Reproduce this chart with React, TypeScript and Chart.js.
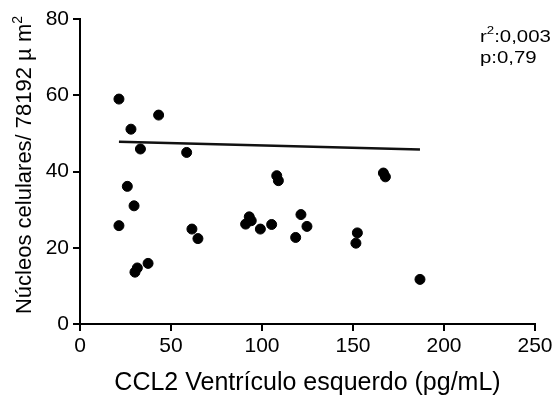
import React, { useEffect, useRef } from "react";
import { Chart, registerables } from "chart.js";

Chart.register(...registerables);

const ccl2Values = [21.4, 28.0, 43.2, 33.2, 58.6, 26.0, 29.7, 21.4, 61.5, 64.8, 31.5, 30.2, 37.4, 93.0, 94.1, 91.0, 99.1, 105.3, 108.1, 109.0, 121.4, 124.7, 118.5, 152.4, 151.6, 166.7, 167.8, 186.8];
const nucleiValues = [59.0, 51.1, 54.8, 45.9, 45.0, 36.1, 31.0, 25.8, 24.9, 22.4, 14.7, 13.6, 15.9, 28.1, 27.1, 26.2, 24.9, 26.1, 38.9, 37.6, 28.7, 25.6, 22.7, 23.9, 21.2, 39.6, 38.6, 11.7];
const fitX = [21.4, 186.8];
const fitY = [47.8, 45.8];
const xTicks = [0, 50, 100, 150, 200, 250];
const yTicks = [0, 20, 40, 60, 80];
const xTitle = "CCL2 Ventrículo esquerdo (pg/mL)";
const yTitleMain = "Núcleos celulares/ 78192 µ m";
const yTitleSup = "2";
const statsR2 = ":0,003";
const statsP = "p:0,79";

const FONT = "'Liberation Sans', Arial, Helvetica, sans-serif";

const textPlugin = {
  id: "texts",
  afterDraw(chart: any) {
    const ctx = chart.ctx;
    ctx.save();
    ctx.fillStyle = "#000";
    ctx.textBaseline = "alphabetic";
    ctx.textAlign = "left";
    // stats annotation (slightly wide lettering as in the reference)
    ctx.save();
    ctx.translate(480, 0);
    ctx.scale(1.2, 1);
    ctx.font = `17px ${FONT}`;
    ctx.fillText("r", 0, 42);
    const rw = ctx.measureText("r").width;
    ctx.font = `11px ${FONT}`;
    ctx.fillText("2", rw, 34);
    const sw = ctx.measureText("2").width;
    ctx.font = `17px ${FONT}`;
    ctx.fillText(statsR2, rw + sw, 42);
    ctx.fillText(statsP, 0, 63);
    ctx.restore();
    // y-axis title
    ctx.save();
    ctx.translate(31, 165);
    ctx.rotate(-Math.PI / 2);
    ctx.font = `22px ${FONT}`;
    const mw = ctx.measureText(yTitleMain).width;
    ctx.font = `14px ${FONT}`;
    const supW = ctx.measureText(yTitleSup).width;
    const start = -(mw + supW) / 2;
    ctx.font = `22px ${FONT}`;
    ctx.fillText(yTitleMain, start, 0);
    ctx.font = `14px ${FONT}`;
    ctx.fillText(yTitleSup, start + mw, -9);
    ctx.restore();
    ctx.restore();
  },
};

export default function App() {
  const ref = useRef<HTMLCanvasElement | null>(null);
  useEffect(() => {
    if (!ref.current) return;
    const chart = new Chart(ref.current, {
      type: "scatter",
      data: {
        datasets: [
          {
            type: "scatter",
            data: ccl2Values.map((x, i) => ({ x, y: nucleiValues[i] })),
            backgroundColor: "#000",
            borderColor: "#000",
            pointRadius: 5,
            pointHoverRadius: 5,
          },
          {
            type: "line",
            data: fitX.map((x, i) => ({ x, y: fitY[i] })),
            borderColor: "#111",
            borderWidth: 2.5,
            pointRadius: 0,
            fill: false,
          } as any,
        ],
      },
      options: {
        responsive: false,
        animation: false,
        layout: { padding: { top: 19, right: 24, left: 0, bottom: 0 } },
        plugins: { legend: { display: false }, tooltip: { enabled: false } },
        scales: {
          x: {
            type: "linear",
            min: 0,
            max: 250,
            afterBuildTicks: (s: any) => {
              s.ticks = xTicks.map((v) => ({ value: v }));
            },
            afterFit: (s: any) => {
              s.height = 75;
            },
            grid: { display: true, drawOnChartArea: false, drawTicks: true, tickLength: 7, color: "#000", lineWidth: 2 },
            border: { display: true, color: "#000", width: 2 },
            ticks: { color: "#000", font: { family: FONT, size: 21 }, padding: 3, maxRotation: 0 },
            title: { display: true, text: xTitle, color: "#000", font: { family: FONT, size: 25 }, padding: { top: 0, bottom: 1 } },
          },
          y: {
            type: "linear",
            min: 0,
            max: 80,
            afterBuildTicks: (s: any) => {
              s.ticks = yTicks.map((v) => ({ value: v }));
            },
            afterFit: (s: any) => {
              s.width = 80;
            },
            grid: { display: true, drawOnChartArea: false, drawTicks: true, tickLength: 7, color: "#000", lineWidth: 2 },
            border: { display: true, color: "#000", width: 2 },
            ticks: { color: "#000", font: { family: FONT, size: 21 }, padding: 4 },
            title: { display: false },
          },
        },
      },
      plugins: [textPlugin],
    });
    return () => chart.destroy();
  }, []);
  return (
    <div style={{ position: "absolute", left: 0, top: 0, width: 559, height: 399, background: "#fff" }}>
      <canvas ref={ref} width={559} height={399} />
    </div>
  );
}
